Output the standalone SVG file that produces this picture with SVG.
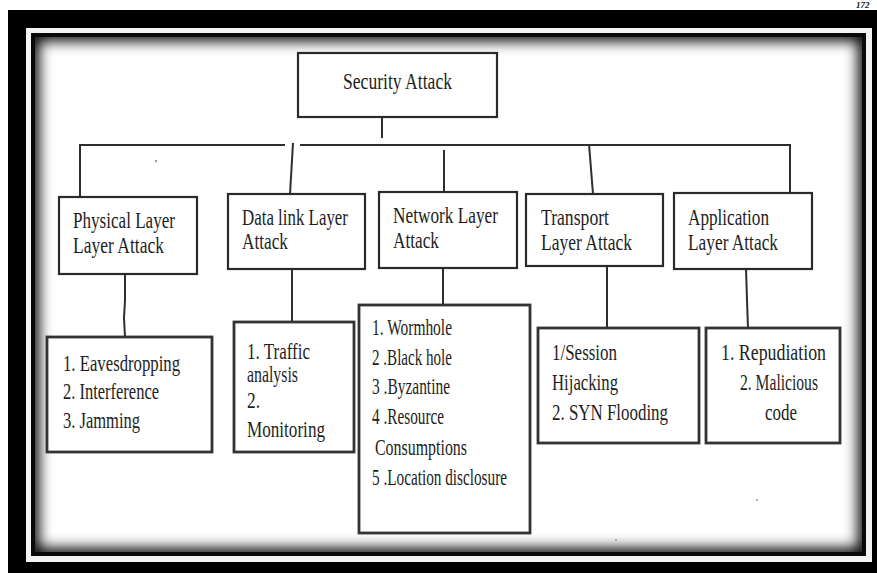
<svg xmlns="http://www.w3.org/2000/svg" width="877" height="573" viewBox="0 0 877 573">
  <style>
    .box { fill: #ffffff; stroke: #2a2a2a; stroke-width: 2.2; }
    .list { fill: #ffffff; stroke: #333333; stroke-width: 2.8; }
    .lbl { font-family: "Liberation Serif", "Times New Roman", serif; font-size: 23px; fill: #1e1e1e; }
    .wire { fill: none; stroke: #2e2e2e; stroke-width: 2; stroke-linecap: butt; }
    .speck { fill: #9a9a9a; }
  </style>
  <defs>
    <clipPath id="innerArea">
      <rect x="31" y="33" width="835" height="523"/>
    </clipPath>
    <filter id="soft" x="-5%" y="-5%" width="110%" height="110%">
      <feGaussianBlur stdDeviation="7"/>
    </filter>
  </defs>

  <!-- page background and heavy picture frame -->
  <rect x="0" y="0" width="877" height="573" fill="#ffffff"/>
  <rect x="8" y="10" width="869" height="563" fill="#000000"/>
  <rect x="26" y="28" width="846" height="534" fill="#f4f4f4"/>
  <g clip-path="url(#innerArea)">
    <rect x="31" y="33" width="835" height="523" fill="#ffffff"/>
    <rect x="31" y="33" width="835" height="523" fill="none" stroke="#000000" stroke-width="16" filter="url(#soft)"/>
    <rect x="31" y="33" width="835" height="523" fill="none" stroke="#0a0a0a" stroke-width="8"/>
  </g>
  <text x="856" y="8" font-family="Liberation Serif, serif" font-size="9" font-weight="bold" font-style="italic" fill="#111">172</text>

  <!-- connectors -->
  <g id="connectors">
    <line class="wire" x1="382" y1="117" x2="382" y2="138"/>
    <line class="wire" x1="80" y1="145" x2="285" y2="145"/>
    <line class="wire" x1="300" y1="145" x2="790" y2="145"/>
    <line class="wire" x1="80" y1="144" x2="80" y2="197"/>
    <line class="wire" x1="293" y1="143" x2="290" y2="194"/>
    <line class="wire" x1="444" y1="150" x2="444" y2="192"/>
    <line class="wire" x1="589" y1="144" x2="593" y2="194"/>
    <line class="wire" x1="790" y1="144" x2="790" y2="193"/>
    <path class="wire" d="M125 274 L125 300 L124 318 L125 337"/>
    <line class="wire" x1="292" y1="269" x2="292" y2="322"/>
    <line class="wire" x1="443" y1="268" x2="443" y2="305"/>
    <line class="wire" x1="607" y1="266" x2="607" y2="328"/>
    <path class="wire" d="M746 269 L747 300 L748 328"/>
  </g>

  <!-- root -->
  <g id="security-attack">
    <rect class="box" x="298" y="53" width="199" height="64"/>
    <text class="lbl" x="343" y="89" textLength="109" lengthAdjust="spacingAndGlyphs">Security Attack</text>
  </g>

  <!-- layer nodes -->
  <g id="physical-layer">
    <rect class="box" x="59" y="197" width="138" height="77"/>
    <text class="lbl" x="73" y="228" textLength="102" lengthAdjust="spacingAndGlyphs">Physical Layer</text>
    <text class="lbl" x="73" y="253" textLength="91" lengthAdjust="spacingAndGlyphs">Layer Attack</text>
  </g>
  <g id="datalink-layer">
    <rect class="box" x="228" y="194" width="137" height="75"/>
    <text class="lbl" x="242" y="225" textLength="106" lengthAdjust="spacingAndGlyphs">Data link Layer</text>
    <text class="lbl" x="242" y="249" textLength="46" lengthAdjust="spacingAndGlyphs">Attack</text>
  </g>
  <g id="network-layer">
    <rect class="box" x="379" y="192" width="138" height="76"/>
    <text class="lbl" x="393" y="223" textLength="105" lengthAdjust="spacingAndGlyphs">Network Layer</text>
    <text class="lbl" x="393" y="248" textLength="46" lengthAdjust="spacingAndGlyphs">Attack</text>
  </g>
  <g id="transport-layer">
    <rect class="box" x="526" y="194" width="137" height="72"/>
    <text class="lbl" x="541" y="225" textLength="68" lengthAdjust="spacingAndGlyphs">Transport</text>
    <text class="lbl" x="541" y="250" textLength="91" lengthAdjust="spacingAndGlyphs">Layer Attack</text>
  </g>
  <g id="application-layer">
    <rect class="box" x="674" y="193" width="138" height="76"/>
    <text class="lbl" x="688" y="225" textLength="81" lengthAdjust="spacingAndGlyphs">Application</text>
    <text class="lbl" x="688" y="250" textLength="90" lengthAdjust="spacingAndGlyphs">Layer Attack</text>
  </g>

  <!-- attack lists -->
  <g id="physical-attacks">
    <rect class="list" x="47" y="337" width="165" height="115"/>
    <text class="lbl" x="63" y="371" textLength="117" lengthAdjust="spacingAndGlyphs">1. Eavesdropping</text>
    <text class="lbl" x="63" y="399" textLength="96" lengthAdjust="spacingAndGlyphs">2. Interference</text>
    <text class="lbl" x="63" y="428" textLength="77" lengthAdjust="spacingAndGlyphs">3. Jamming</text>
  </g>
  <g id="datalink-attacks">
    <rect class="list" x="234" y="322" width="120" height="130"/>
    <text class="lbl" x="247" y="359" textLength="63" lengthAdjust="spacingAndGlyphs">1. Traffic</text>
    <text class="lbl" x="247" y="382" textLength="51" lengthAdjust="spacingAndGlyphs">analysis</text>
    <text class="lbl" x="247" y="408" textLength="13" lengthAdjust="spacingAndGlyphs">2.</text>
    <text class="lbl" x="247" y="437" textLength="78" lengthAdjust="spacingAndGlyphs">Monitoring</text>
  </g>
  <g id="network-attacks">
    <rect class="list" x="359" y="305" width="171" height="228"/>
    <text class="lbl" x="372" y="335" textLength="80" lengthAdjust="spacingAndGlyphs">1. Wormhole</text>
    <text class="lbl" x="372" y="365" textLength="80" lengthAdjust="spacingAndGlyphs">2 .Black hole</text>
    <text class="lbl" x="372" y="394" textLength="78" lengthAdjust="spacingAndGlyphs">3 .Byzantine</text>
    <text class="lbl" x="372" y="424" textLength="72" lengthAdjust="spacingAndGlyphs">4 .Resource</text>
    <text class="lbl" x="375" y="455" textLength="92" lengthAdjust="spacingAndGlyphs">Consumptions</text>
    <text class="lbl" x="372" y="485" textLength="135" lengthAdjust="spacingAndGlyphs">5 .Location disclosure</text>
  </g>
  <g id="transport-attacks">
    <rect class="list" x="538" y="328" width="161" height="115"/>
    <text class="lbl" x="552" y="360" textLength="65" lengthAdjust="spacingAndGlyphs">1/Session</text>
    <text class="lbl" x="552" y="390" textLength="66" lengthAdjust="spacingAndGlyphs">Hijacking</text>
    <text class="lbl" x="552" y="420" textLength="116" lengthAdjust="spacingAndGlyphs">2. SYN Flooding</text>
  </g>
  <g id="application-attacks">
    <rect class="list" x="706" y="328" width="134" height="115"/>
    <text class="lbl" x="721" y="360" textLength="105" lengthAdjust="spacingAndGlyphs">1. Repudiation</text>
    <text class="lbl" x="740" y="390" textLength="78" lengthAdjust="spacingAndGlyphs">2. Malicious</text>
    <text class="lbl" x="765" y="420" textLength="32" lengthAdjust="spacingAndGlyphs">code</text>
  </g>

  <!-- stray marks -->
  <circle class="speck" cx="156" cy="161" r="1.2"/>
  <circle class="speck" cx="757" cy="500" r="1"/>
  <circle class="speck" cx="616" cy="540" r="1.1"/>
</svg>
